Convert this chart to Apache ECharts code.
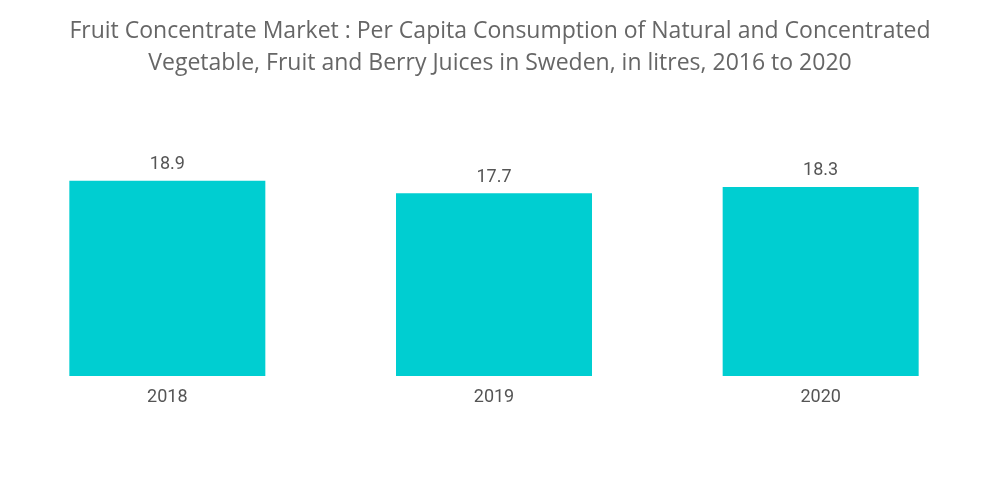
<!DOCTYPE html>
<html><head><meta charset="utf-8">
<script src="https://cdn.jsdelivr.net/npm/echarts@6/dist/echarts.min.js"></script>
<style>html,body{margin:0;padding:0;background:#fff}#c{width:1000px;height:504px}</style>
</head><body><div id="c"></div>
<script>
const categories = ['2018', '2019', '2020'];
const values = [18.9, 17.7, 18.3];
const titleText = 'Fruit Concentrate Market : Per Capita Consumption of Natural and Concentrated\nVegetable, Fruit and Berry Juices in Sweden, in litres, 2016 to 2020';

const chart = echarts.init(document.getElementById('c'));
chart.setOption({
  animation: false,
  title: {
    text: titleText,
    left: 'center',
    top: 10,
    textStyle: { fontFamily: 'Open Sans', fontWeight: 'normal', fontSize: 23, color: '#666666', lineHeight: 32 }
  },
  grid: { left: 4, right: 16, top: 169.4, bottom: 128, containLabel: false },
  xAxis: {
    type: 'category',
    data: categories,
    axisLine: { show: false },
    axisTick: { show: false },
    axisLabel: { fontFamily: 'Roboto', fontSize: 18, color: '#555555', margin: 12 }
  },
  yAxis: {
    type: 'value',
    min: 0, max: 20,
    show: false,
    splitLine: { show: false }
  },
  series: [{
    type: 'bar',
    data: values,
    barCategoryGap: '40%',
    itemStyle: { color: '#00CED1' },
    label: { show: true, position: 'top', distance: 7, fontFamily: 'Roboto', fontSize: 18, color: '#555555' }
  }]
});
</script></body></html>
